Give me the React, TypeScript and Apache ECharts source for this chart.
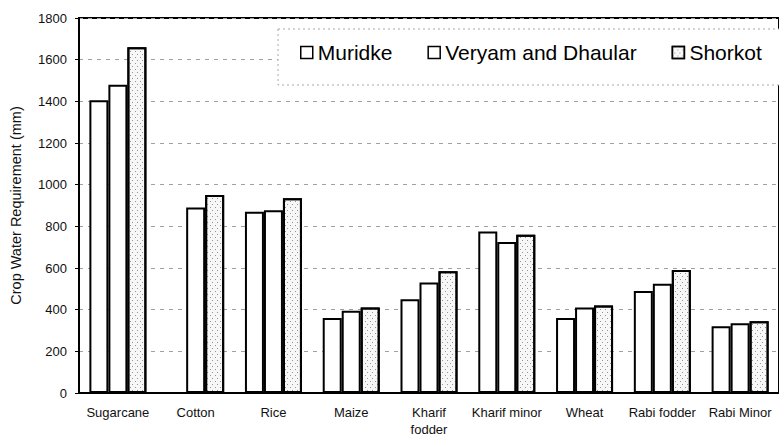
import React, { useEffect, useRef } from "react";
import * as echarts from "echarts";

const categories = [
  "Sugarcane",
  "Cotton",
  "Rice",
  "Maize",
  "Kharif\nfodder",
  "Kharif minor",
  "Wheat",
  "Rabi fodder",
  "Rabi Minor",
];
const seriesNames = ["Muridke", "Veryam and Dhaular", "Shorkot"];
const muridke = [1405, null, 870, 360, 450, 775, 360, 490, 320];
const veryam = [1480, 890, 877, 395, 530, 725, 410, 525, 335];
const shorkot = [1660, 950, 935, 410, 585, 760, 420, 590, 345];
const yMin = 0;
const yMax = 1800;
const yInterval = 200;
const yTitle = "Crop Water Requirement (mm)";

const FONT = "'Liberation Sans', Arial, Helvetica, sans-serif";

export default function App() {
  const ref = useRef<HTMLDivElement>(null);

  useEffect(() => {
    document.body.style.margin = "0";
    if (!ref.current) return;
    const chart = echarts.init(ref.current, undefined, { renderer: "svg" });

    const baseItem = {
      color: "#ffffff",
      borderColor: "#000000",
      borderWidth: 2,
    };

    chart.setOption({
      animation: false,
      backgroundColor: "#ffffff",
      textStyle: { fontFamily: FONT },
      grid: {
        left: 74,
        right: -4,
        top: 18,
        bottom: 48,
        show: true,
        borderColor: "#000",
        borderWidth: 2,
        backgroundColor: "transparent",
      },
      legend: {
        data: seriesNames,
        icon: "rect",
        left: 295,
        top: 37,
        itemWidth: 12,
        itemHeight: 12,
        itemGap: 35,
        z: 10,
        itemStyle: { borderWidth: 1.5 },
        textStyle: { fontSize: 21, color: "#000", fontFamily: FONT },
      },
      graphic: [
        {
          type: "rect",
          z: 5,
          shape: { x: 278, y: 29, width: 520, height: 56 },
          style: { fill: "#fff", stroke: "#a8a8a8", lineWidth: 1, lineDash: [2, 3] },
        },
      ],
      xAxis: {
        type: "category",
        data: categories,
        axisLine: { lineStyle: { color: "#000", width: 2 } },
        axisTick: { show: false },
        axisLabel: {
          interval: 0,
          color: "#111",
          fontSize: 13,
          lineHeight: 17,
          margin: 11,
          fontFamily: FONT,
        },
      },
      yAxis: {
        type: "value",
        min: yMin,
        max: yMax,
        interval: yInterval,
        name: yTitle,
        nameLocation: "middle",
        nameGap: 56,
        nameTextStyle: { fontSize: 14.5, color: "#111", fontFamily: FONT },
        axisLine: { show: true, lineStyle: { color: "#000", width: 2 } },
        axisTick: { show: true, length: 4, lineStyle: { color: "#000" } },
        axisLabel: {
          color: "#111",
          fontSize: 13,
          margin: 12,
          fontFamily: FONT,
          formatter: (v: number) => String(v),
        },
        splitLine: {
          show: true,
          lineStyle: { color: "#a0a0a0", width: 1, type: [4, 5] },
        },
      },
      series: [
        {
          name: seriesNames[0],
          type: "bar",
          data: muridke,
          barWidth: 19,
          barGap: "0%",
          itemStyle: { ...baseItem },
        },
        {
          name: seriesNames[1],
          type: "bar",
          data: veryam,
          barWidth: 19,
          barGap: "0%",
          itemStyle: { ...baseItem },
        },
        {
          name: seriesNames[2],
          type: "bar",
          data: shorkot,
          barWidth: 19,
          barGap: "0%",
          itemStyle: {
            ...baseItem,
            color: "#f7f7f7",
            decal: {
              symbol: "rect",
              symbolSize: 1,
              dashArrayX: [[1, 4], [0, 2, 1, 2]],
              dashArrayY: [1, 2],
              color: "rgba(0,0,0,0.4)",
              rotation: 0,
            },
          },
        },
      ],
    });

    return () => {
      chart.dispose();
    };
  }, []);

  return <div ref={ref} style={{ width: 779, height: 441 }} />;
}
